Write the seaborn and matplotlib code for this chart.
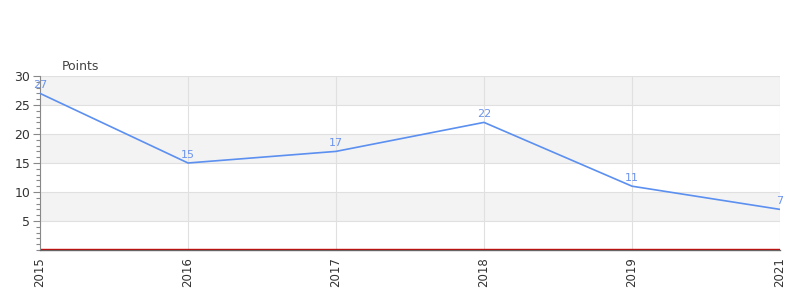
import matplotlib
matplotlib.use("Agg")
import matplotlib.pyplot as plt
import seaborn as sns
import pandas as pd
from matplotlib.ticker import MultipleLocator, FixedLocator

years = ["2015", "2016", "2017", "2018", "2019", "2021"]
points = [27, 15, 17, 22, 11, 7]
y_ticks = [5, 10, 15, 20, 25, 30]

sns.set_theme(style="white")
plt.rcParams['font.family'] = ['DejaVu Sans']

df = pd.DataFrame({"year": years, "points": points})

fig = plt.figure(figsize=(8, 3), dpi=100)
ax = fig.add_axes([0.05, 0.1667, 0.925, 0.58])

line_color = "#5b8ff0"
# bands
for lo in range(0, 30, 10):
    ax.axhspan(lo + 5, lo + 10, color="#f3f3f3", zorder=0, lw=0)

sns.lineplot(data=df, x="year", y="points", sort=False, color=line_color,
             linewidth=1.2, ax=ax, zorder=3)

for i, v in enumerate(points):
    ax.text(i, v + 0.6, str(v), color="#6b93ee", fontsize=8, ha="center",
            va="bottom", zorder=4)

ax.axhline(0.2, color="#cc0000", lw=1.0, zorder=2)

ax.set_xlim(0, len(years) - 1)
ax.set_ylim(0, 30)
ax.yaxis.set_major_locator(FixedLocator(y_ticks))
ax.yaxis.set_minor_locator(MultipleLocator(1))
ax.set_xticks(range(len(years)))
ax.set_xticklabels(years, rotation=90)

ax.grid(True, which="major", color="#e0e0e0", lw=0.8, zorder=1)
ax.set_axisbelow(True)

for s in ["top", "right"]:
    ax.spines[s].set_visible(False)
ax.spines["left"].set_color("#888888")
ax.spines["bottom"].set_color("#666666")
ax.spines["bottom"].set_linewidth(1.0)
ax.spines["left"].set_linewidth(0.8)

ax.tick_params(axis="y", which="major", length=5, color="#888888", width=0.8,
               labelsize=9, labelcolor="#333333", left=True, pad=2)
ax.tick_params(axis="y", which="minor", length=3, color="#888888", width=0.8, left=True)
ax.tick_params(axis="x", length=0, labelsize=8.5, labelcolor="#333333", pad=5)

ax.set_xlabel("")
ax.set_ylabel("")
fig.text(62 / 800, 1 - 66 / 300, "Points", fontsize=9, color="#444444",
         ha="left", va="center")

fig.savefig("out.png", dpi=100)
